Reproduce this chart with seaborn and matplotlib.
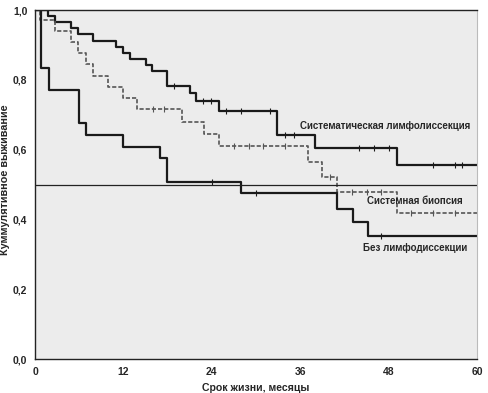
import numpy as np
import pandas as pd
import matplotlib
matplotlib.use("Agg")
import matplotlib.pyplot as plt
import seaborn as sns

# ---- data ----
groups = ["Систематическая лимфолиссекция", "Системная биопсия", "Без лимфодиссекции"]

t_sys = [0, 1.8, 2.7, 4.9, 5.9, 7.9, 11.0, 12.0, 12.9, 15.0, 15.9, 17.9, 21.0, 21.9, 25.0, 32.9, 38.0, 49.1, 60]
s_sys = [1.0, 0.984, 0.966, 0.949, 0.931, 0.912, 0.895, 0.878, 0.860, 0.842, 0.824, 0.782, 0.761, 0.740, 0.711, 0.642, 0.605, 0.556, 0.556]
c_sys_t = [18.8, 22.8, 23.9, 25.9, 28.0, 31.9, 33.9, 35.2, 44.0, 46.0, 48.0, 54.0, 57.0, 58.0]

t_bio = [0, 0.7, 2.7, 4.9, 5.9, 6.9, 7.9, 9.9, 12.0, 13.9, 19.9, 22.9, 25.0, 37.1, 39.0, 41.0, 49.1, 60]
s_bio = [1.0, 0.971, 0.940, 0.907, 0.876, 0.844, 0.811, 0.778, 0.747, 0.715, 0.678, 0.644, 0.610, 0.565, 0.522, 0.478, 0.417, 0.417]
c_bio_t = [16.0, 17.5, 27.0, 29.0, 31.0, 34.0, 40.0, 43.0, 45.0, 47.0, 51.0, 54.0, 57.0]

t_non = [0, 0.8, 1.9, 6.0, 6.9, 12.0, 17.0, 17.9, 28.0, 41.0, 43.1, 45.2, 60]
s_non = [1.0, 0.835, 0.771, 0.675, 0.642, 0.608, 0.577, 0.508, 0.475, 0.430, 0.392, 0.352, 0.352]
c_non_t = [24.0, 30.0, 47.0]

x_ticks = [0, 12, 24, 36, 48, 60]
y_ticks = [0.0, 0.2, 0.4, 0.6, 0.8, 1.0]
y_tick_labels = ["0,0", "0,2", "0,4", "0,6", "0,8", "1,0"]


def step_value(ts, ss, t):
    idx = np.searchsorted(ts, t, side="right") - 1
    return ss[idx]


curves = pd.concat([
    pd.DataFrame({"t": t_sys, "s": s_sys, "g": groups[0]}),
    pd.DataFrame({"t": t_bio, "s": s_bio, "g": groups[1]}),
    pd.DataFrame({"t": t_non, "s": s_non, "g": groups[2]}),
])
cens = pd.concat([
    pd.DataFrame({"t": c_sys_t, "s": [step_value(t_sys, s_sys, t) for t in c_sys_t], "g": groups[0]}),
    pd.DataFrame({"t": c_bio_t, "s": [step_value(t_bio, s_bio, t) for t in c_bio_t], "g": groups[1]}),
    pd.DataFrame({"t": c_non_t, "s": [step_value(t_non, s_non, t) for t in c_non_t], "g": groups[2]}),
])

sns.set_style("white")
plt.rcParams["font.family"] = ["Liberation Sans", "DejaVu Sans"]

fig = plt.figure(figsize=(4.89, 3.93), dpi=100)
ax = fig.add_axes([0.0716, 0.0865, 0.9039, 0.888])
ax.set_facecolor("#ececec")

palette = {groups[0]: "#1a1a1a", groups[1]: "#555555", groups[2]: "#1a1a1a"}
styles = {groups[0]: (None, 1.6), groups[1]: ((0, (2.5, 1.2)), 1.2), groups[2]: (None, 1.6)}

for g in groups:
    d = curves[curves["g"] == g]
    ls, lw = styles[g]
    sns.lineplot(data=d, x="t", y="s", ax=ax, estimator=None, sort=False,
                 drawstyle="steps-post", color=palette[g], lw=lw,
                 linestyle=ls if ls else "-", legend=False)
    dc = cens[cens["g"] == g]
    sns.scatterplot(data=dc, x="t", y="s", ax=ax, marker="|", s=18,
                    color=palette[g], linewidth=0.8, legend=False)

ax.axhline(0.5, color="#222222", lw=0.9)

ax.set_xlim(0, 60)
ax.set_ylim(0, 1.0)
ax.set_xticks(x_ticks)
ax.set_xticklabels([str(v) for v in x_ticks], fontsize=7.5, fontweight="bold")
ax.set_yticks(y_ticks)
ax.set_yticklabels(y_tick_labels, fontsize=7.5, fontweight="bold")
ax.set_xticks([6, 18, 30, 42, 54], minor=True)
ax.set_yticks([0.1, 0.3, 0.5, 0.7, 0.9], minor=True)
ax.tick_params(axis="both", which="major", direction="out", length=4, width=0.8, pad=1.5, color="#222222")
ax.tick_params(axis="both", which="minor", direction="out", length=3, width=0.6, color="#222222")

for side in ["left", "bottom", "top"]:
    ax.spines[side].set_visible(True)
    ax.spines[side].set_color("#222222")
    ax.spines[side].set_linewidth(1.0)
ax.spines["right"].set_visible(True)
ax.spines["right"].set_color("#bbbbbb")
ax.spines["right"].set_linewidth(0.8)

ax.set_xlabel("Срок жизни, месяцы", fontsize=7.6, fontweight="bold")
ax.set_ylabel("Куммулятивное выживание", fontsize=7.8, fontweight="bold")
ax.xaxis.set_label_coords(0.5, -0.069)
ax.yaxis.set_label_coords(-0.057, 0.513)

ax.text(36.0, 0.668, groups[0], fontsize=7.0, fontweight="bold", va="center", ha="left")
ax.text(45.0, 0.453, groups[1], fontsize=7.0, fontweight="bold", va="center", ha="left")
ax.text(44.5, 0.317, groups[2], fontsize=7.0, fontweight="bold", va="center", ha="left")

fig.savefig("out.png", dpi=100)
